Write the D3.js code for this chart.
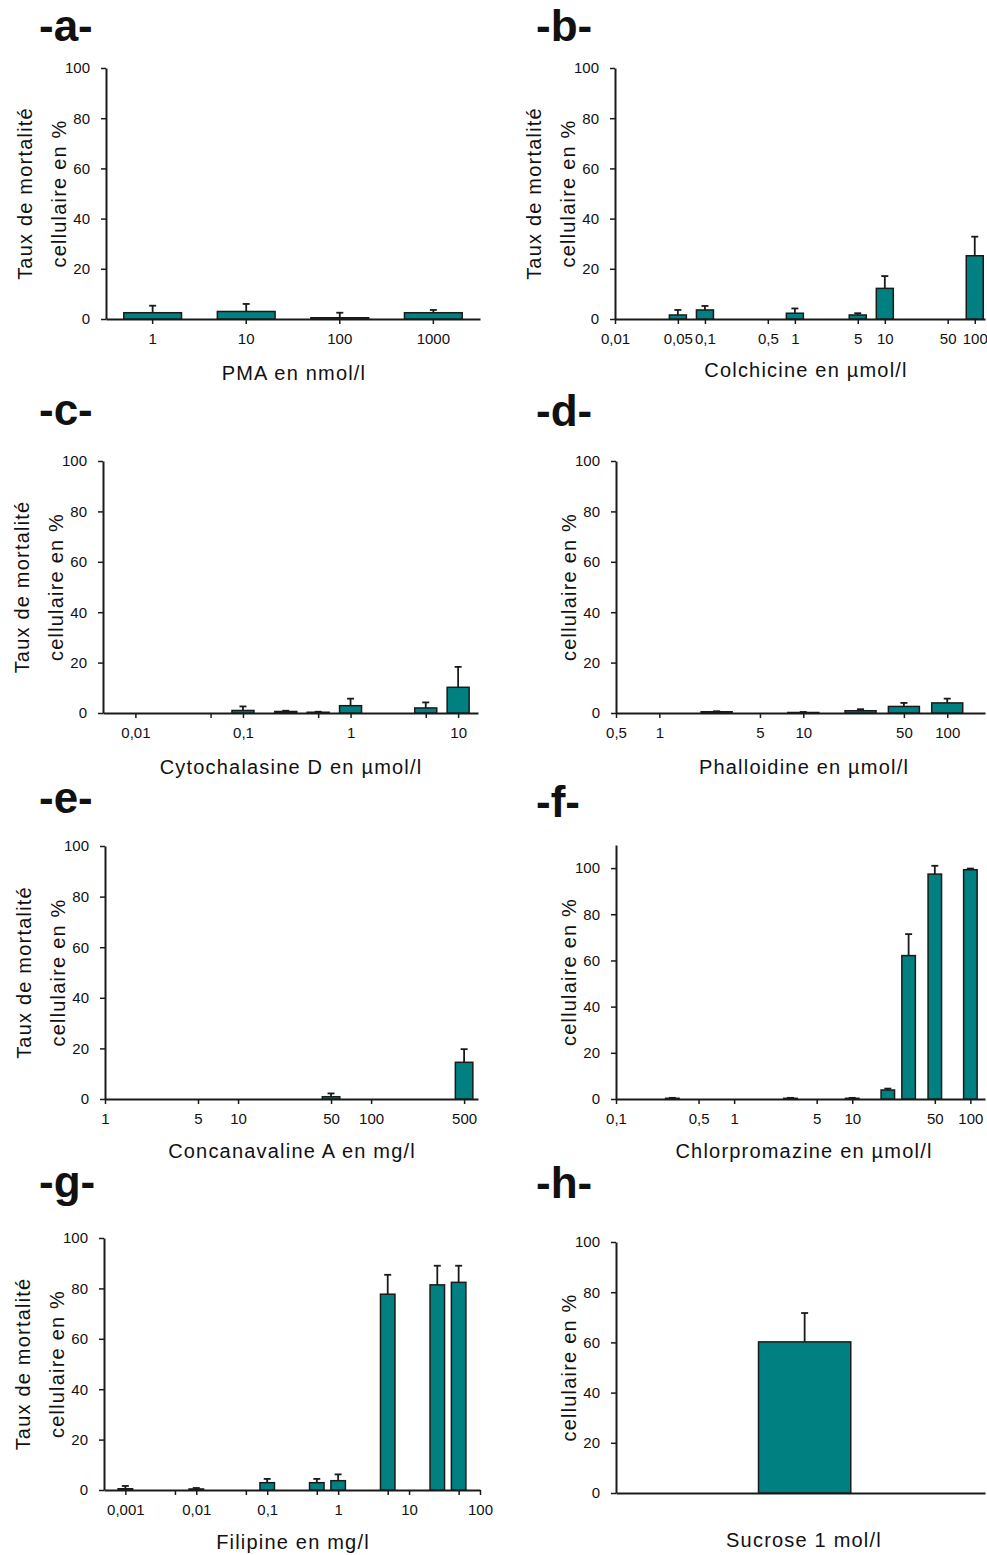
<!DOCTYPE html>
<html><head><meta charset="utf-8">
<script src="https://cdn.jsdelivr.net/npm/d3@7"></script>
<style>
body{margin:0;background:#fff}
svg text{font-family:"Liberation Sans",Arial,sans-serif;fill:#111}
</style>
</head><body>
<svg id="chart" width="987" height="1555"></svg>
<script>
// ---------------- DATA ----------------
// (a) PMA, nmol/l
const pmaDoses = ["1", "10", "100", "1000"];
const pmaMean  = [2.5, 3.0, 0.5, 2.5];
const pmaSd    = [2.8, 3.0, 2.0, 1.1];
// (b) Colchicine, µmol/l
const colDoses = [0.05, 0.1, 1, 5, 10, 100];
const colMean  = [1.6, 3.6, 2.3, 1.6, 12.2, 25.2];
const colSd    = [2.0, 1.6, 1.9, 0.7, 4.9, 7.6];
const colTicks = [0.01, 0.05, 0.1, 0.5, 1, 5, 10, 50, 100];
const colTickLabels = ["0,01", "0,05", "0,1", "0,5", "1", "5", "10", "50", "100"];
// (c) Cytochalasine D, µmol/l
const cytDoses = [0.1, 0.25, 0.5, 1, 5, 10];
const cytMean  = [1.0, 0.6, 0.3, 2.9, 2.0, 10.2];
const cytSd    = [1.6, 0.3, 0.2, 2.8, 2.2, 8.1];
const cytTicks = [0.01, 0.05, 0.1, 0.5, 1, 5, 10];
const cytTickLabels = ["0,01", "", "0,1", "", "1", "", "10"];
// (d) Phalloidine, µmol/l
const phaDoses = [2.5, 10, 25, 50, 100];
const phaMean  = [0.5, 0.2, 0.9, 2.6, 4.0];
const phaSd    = [0.2, 0.2, 0.6, 1.4, 1.7];
const phaTicks = [0.5, 1, 5, 10, 50, 100];
const phaTickLabels = ["0,5", "1", "5", "10", "50", "100"];
// (e) Concanavaline A, mg/l
const conDoses = [50, 500];
const conMean  = [0.9, 14.5];
const conSd    = [1.3, 5.2];
const conTicks = [1, 5, 10, 50, 100, 500];
const conTickLabels = ["1", "5", "10", "50", "100", "500"];
// (f) Chlorpromazine, µmol/l
const chlDoses = [0.3, 3, 10, 20, 30, 50, 100];
const chlMean  = [0.3, 0.3, 0.3, 3.9, 62.1, 97.4, 99.3];
const chlSd    = [0.2, 0.2, 0.2, 0.6, 9.3, 3.6, 0.5];
const chlTicks = [0.1, 0.5, 1, 5, 10, 50, 100];
const chlTickLabels = ["0,1", "0,5", "1", "5", "10", "50", "100"];
// (g) Filipine, mg/l
const filDoses = [0.001, 0.01, 0.1, 0.5, 1, 5, 25, 50];
const filMean  = [0.5, 0.4, 2.9, 2.9, 3.7, 77.7, 81.4, 82.4];
const filSd    = [1.1, 0.4, 1.5, 1.5, 2.5, 7.7, 7.6, 6.6];
const filTicks = [0.001, 0.005, 0.01, 0.05, 0.1, 0.5, 1, 5, 10, 50, 100];
const filTickLabels = ["0,001", "", "0,01", "", "0,1", "", "1", "", "10", "", "100"];
// (h) Sucrose
const sucCats = ["Sucrose 1 mol/l"];
const sucMean = [60.2];
const sucSd   = [11.5];

const yTicks = [0, 20, 40, 60, 80, 100];
const yTitle1 = "Taux de mortalité";
const yTitle2 = "cellulaire en %";

// ---------------- LAYOUT ----------------
const panels = [
  {letter:"-a-", lx:39, ly:41, type:"band", cats:pmaDoses, mean:pmaMean, sd:pmaSd,
   x0:106, x1:480, yTop:68, yZero:319, yMax:100, padIn:0.383, padOut:0.19, align:0.5,
   title:"PMA en nmol/l", tx:294, ty:380, lines:2},
  {letter:"-b-", lx:536, ly:41, type:"log", cats:colDoses, mean:colMean, sd:colSd,
   ticks:colTicks, tickLabels:colTickLabels, domain:[0.01,130], barW:17,
   x0:615, x1:985, yTop:68, yZero:319, yMax:100,
   title:"Colchicine en µmol/l", tx:806, ty:377, lines:2},
  {letter:"-c-", lx:39, ly:425, type:"log", cats:cytDoses, mean:cytMean, sd:cytSd,
   ticks:cytTicks, tickLabels:cytTickLabels, domain:[0.005,15.3], barW:22,
   x0:103, x1:478, yTop:461, yZero:713, yMax:100,
   title:"Cytochalasine D en µmol/l", tx:291, ty:774, lines:2},
  {letter:"-d-", lx:536, ly:426, type:"log", cats:phaDoses, mean:phaMean, sd:phaSd,
   ticks:phaTicks, tickLabels:phaTickLabels, domain:[0.5,183], barW:31,
   x0:616, x1:985, yTop:461, yZero:713, yMax:100,
   title:"Phalloidine en µmol/l", tx:804, ty:774, lines:1},
  {letter:"-e-", lx:39, ly:813, type:"log", cats:conDoses, mean:conMean, sd:conSd,
   ticks:conTicks, tickLabels:conTickLabels, domain:[1,636], barW:17.5,
   x0:105, x1:478, yTop:846, yZero:1099, yMax:100,
   title:"Concanavaline A en mg/l", tx:292, ty:1158, lines:2},
  {letter:"-f-", lx:536, ly:817, type:"log", cats:chlDoses, mean:chlMean, sd:chlSd,
   ticks:chlTicks, tickLabels:chlTickLabels, domain:[0.1,133], barW:13.5,
   x0:616, x1:985, yTop:845, yZero:1099, yMax:110,
   title:"Chlorpromazine en µmol/l", tx:804, ty:1158, lines:1},
  {letter:"-g-", lx:39, ly:1197, type:"log", cats:filDoses, mean:filMean, sd:filSd,
   ticks:filTicks, tickLabels:filTickLabels, domain:[0.0005,100], barW:14.5,
   x0:104, x1:480, yTop:1238, yZero:1490, yMax:100,
   title:"Filipine en mg/l", tx:293, ty:1549, lines:2},
  {letter:"-h-", lx:536, ly:1198, type:"band", cats:sucCats, mean:sucMean, sd:sucSd,
   x0:616, x1:985, yTop:1242, yZero:1493, yMax:100, padIn:0.6, padOut:0.6, align:0.515,
   noXTicks:true,
   title:"Sucrose 1 mol/l", tx:804, ty:1547, lines:1}
];

const svg = d3.select("#chart");
const TEAL = "#008080";
const INK = "#1a1a1a";

function styleAxis(sel){
  sel.select(".domain").attr("stroke", INK).attr("stroke-width", 2);
  sel.selectAll(".tick line").attr("stroke", INK).attr("stroke-width", 1.5);
  sel.selectAll(".tick text").attr("font-size", 15).attr("fill", "#111")
     .attr("font-family", "'Liberation Sans', Arial, sans-serif");
}

panels.forEach(p => {
  const g = svg.append("g");
  const y = d3.scaleLinear().domain([0, p.yMax]).range([p.yZero, p.yTop]);
  let x, xc, bw, xAxis;
  if (p.type === "band") {
    x = d3.scaleBand().domain(p.cats).range([p.x0, p.x1])
          .paddingInner(p.padIn).paddingOuter(p.padOut).align(p.align);
    bw = x.bandwidth();
    xc = d => x(d) + bw / 2;
    xAxis = d3.axisBottom(x).tickSize(5).tickPadding(9).tickSizeOuter(0);
    if (p.noXTicks) xAxis.tickValues([]);
  } else {
    x = d3.scaleLog().domain(p.domain).range([p.x0, p.x1]);
    bw = p.barW;
    xc = d => x(d);
    xAxis = d3.axisBottom(x).tickValues(p.ticks)
              .tickFormat((d, i) => p.tickLabels[i])
              .tickSize(5).tickPadding(9).tickSizeOuter(0);
  }

  // y axis
  const yAxis = d3.axisLeft(y).tickValues(yTicks).tickSize(5).tickPadding(11).tickSizeOuter(0);
  const ya = g.append("g").attr("transform", `translate(${p.x0},0)`).call(yAxis);
  styleAxis(ya);

  // x axis
  const xa = g.append("g").attr("transform", `translate(0,${p.yZero})`).call(xAxis);
  styleAxis(xa);

  const rows = p.cats.map((c, i) => ({c, m: p.mean[i], s: p.sd[i]}));

  // bars
  g.selectAll("rect.bar").data(rows).join("rect")
    .attr("class", "bar")
    .attr("x", d => xc(d.c) - bw / 2)
    .attr("y", d => y(d.m))
    .attr("width", bw)
    .attr("height", d => y(0) - y(d.m))
    .attr("fill", TEAL).attr("stroke", INK).attr("stroke-width", 1.5);

  // error bars (upper only)
  const eb = g.selectAll("g.err").data(rows).join("g").attr("class", "err");
  eb.append("line")
    .attr("x1", d => xc(d.c)).attr("x2", d => xc(d.c))
    .attr("y1", d => y(d.m)).attr("y2", d => y(d.m + d.s))
    .attr("stroke", INK).attr("stroke-width", 1.8);
  eb.append("line")
    .attr("x1", d => xc(d.c) - 3.5).attr("x2", d => xc(d.c) + 3.5)
    .attr("y1", d => y(d.m + d.s)).attr("y2", d => y(d.m + d.s))
    .attr("stroke", INK).attr("stroke-width", 1.8);

  // panel letter
  g.append("text").attr("x", p.lx).attr("y", p.ly)
    .attr("font-size", 44).attr("font-weight", "bold").attr("fill", "#000")
    .text(p.letter);

  // x title
  g.append("text").attr("x", p.tx).attr("y", p.ty)
    .attr("text-anchor", "middle").attr("font-size", 20)
    .attr("letter-spacing", "1.2px").text(p.title);

  // y title
  const cy = (p.yTop + p.yZero) / 2;
  const addY = (txt, cx) => g.append("text")
    .attr("transform", `translate(${cx},${cy}) rotate(-90)`)
    .attr("text-anchor", "middle").attr("dy", "0.35em")
    .attr("font-size", 20).attr("letter-spacing", "1.2px").text(txt);
  if (p.lines === 2) addY(yTitle1, p.x0 - 81);
  addY(yTitle2, p.x0 - 47);
});
</script>
</body></html>
